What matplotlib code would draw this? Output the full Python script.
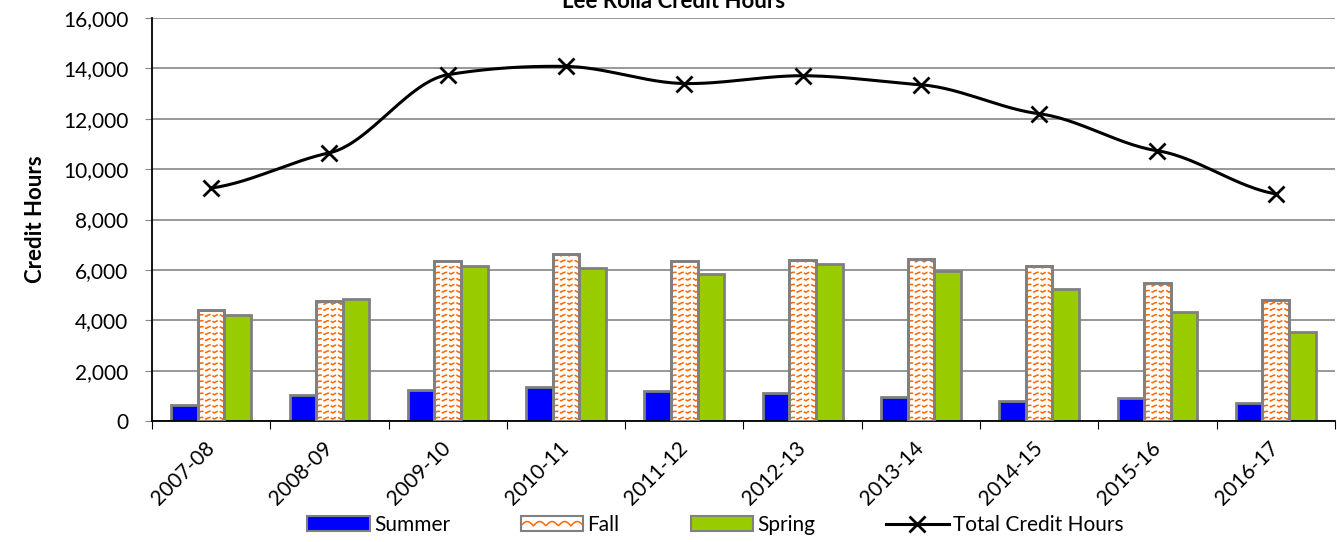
import numpy as np
import matplotlib.pyplot as plt
from matplotlib.lines import Line2D
from matplotlib.patches import Rectangle
from matplotlib.legend_handler import HandlerBase

plt.rcParams['font.family'] = ['Lato', 'DejaVu Sans']

years = ['2007-08', '2008-09', '2009-10', '2010-11', '2011-12',
         '2012-13', '2013-14', '2014-15', '2015-16', '2016-17']
summer = [650, 1050, 1250, 1350, 1200, 1100, 950, 800, 900, 700]
fall = [4400, 4750, 6350, 6650, 6350, 6380, 6450, 6150, 5500, 4800]
spring = [4200, 4850, 6150, 6080, 5850, 6230, 5950, 5250, 4330, 3520]
total = [9250, 10650, 13750, 14080, 13400, 13710, 13350, 12200, 10730, 9020]

ORANGE = '#FF6600'
EDGE = '#808080'
FS = 15


def smooth(xs, ys, n=30, k=0.45):
    # cubic Hermite with damped tangents, close to Excel's smoothed line
    xs = np.asarray(xs, float)
    ys = np.asarray(ys, float)
    m = np.gradient(ys, xs) * k
    ox, oy = [], []
    for i in range(len(xs) - 1):
        t = np.linspace(0, 1, n)
        hgap = xs[i + 1] - xs[i]
        h00 = 2 * t ** 3 - 3 * t ** 2 + 1
        h10 = t ** 3 - 2 * t ** 2 + t
        h01 = -2 * t ** 3 + 3 * t ** 2
        h11 = t ** 3 - t ** 2
        ox.extend(xs[i] + t * hgap)
        oy.extend(h00 * ys[i] + h10 * hgap * m[i] + h01 * ys[i + 1] + h11 * hgap * m[i + 1])
    return ox, oy


def wave_fill(ax, rect):
    x0, y0 = rect.get_x(), rect.get_y()
    w, h = rect.get_width(), rect.get_height()
    xs = np.linspace(x0, x0 + w, 60)
    period = 0.07
    for yy in np.arange(y0 + 110, y0 + h + 200, 240):
        ln, = ax.plot(xs, yy + 70 * np.abs(np.sin(np.pi * (xs - x0) / period)) - 35,
                      color=ORANGE, lw=1.1, zorder=3, dashes=(4, 1.2))
        ln.set_clip_path(rect)


class HandlerWave(HandlerBase):
    def create_artists(self, legend, orig_handle, xdescent, ydescent,
                       width, height, fontsize, trans):
        r = Rectangle((-xdescent, -ydescent), width, height, facecolor='white',
                      edgecolor=EDGE, lw=1.5, transform=trans)
        xs = np.linspace(-xdescent + 1, -xdescent + width - 1, 60)
        ys = -ydescent + height * (0.5 + 0.3 * np.abs(np.sin(np.pi * xs / (width / 5))) - 0.15)
        ln = Line2D(xs, ys, color=ORANGE, lw=1.1, transform=trans)
        return [r, ln]


fig = plt.figure(figsize=(13.37, 5.42), dpi=100)
ax = fig.add_axes([0.1137, 0.2232, 0.8847, 0.7435])

x = np.arange(len(years))
w = 0.225
b1 = ax.bar(x - w, summer, w, color='#0000FF', edgecolor=EDGE, lw=2, zorder=2)
b2 = ax.bar(x, fall, w, color='white', edgecolor=EDGE, lw=2, zorder=2)
b3 = ax.bar(x + w, spring, w, color='#99CC00', edgecolor=EDGE, lw=2, zorder=2)
for r in b2:
    wave_fill(ax, r)
for r in b2:
    ax.add_patch(Rectangle((r.get_x(), r.get_y()), r.get_width(), r.get_height(),
                           fill=False, edgecolor=EDGE, lw=2, zorder=4))

sx, sy = smooth(x, total)
ax.plot(sx, sy, color='black', lw=2.2, zorder=5)
ax.plot(x, total, ls='none', marker='x', ms=11, mew=2, color='black', zorder=6)

ax.set_xlim(-0.5, len(years) - 0.5)
ax.set_ylim(0, 16000)
ax.set_yticks(np.arange(0, 16001, 2000))
ax.set_yticklabels([f'{v:,}' for v in range(0, 16001, 2000)], fontsize=FS)
ax.yaxis.grid(True, color='#868686', lw=1.2, zorder=0)
ax.set_axisbelow(True)

ax.set_xticks(np.arange(-0.5, len(years)), minor=False)
ax.set_xticklabels([])
ax.set_xticks(x, minor=True)
ax.set_xticklabels(years, minor=True, rotation=45, ha='right', va='center',
                   rotation_mode='anchor', fontsize=FS)
ax.tick_params(axis='x', which='major', length=6, direction='out', color='black')
ax.tick_params(axis='x', which='minor', length=0, pad=17)
ax.tick_params(axis='y', length=5, color='#868686', pad=12)

for s in ['top', 'right']:
    ax.spines[s].set_visible(False)
ax.spines['left'].set_color('black')
ax.spines['bottom'].set_color('black')
ax.spines['left'].set_linewidth(1.3)
ax.spines['bottom'].set_linewidth(1.3)

ax.set_ylabel('Credit Hours', fontsize=16, fontweight='bold', labelpad=12)

fig.text(0.504, 1 - 8 / 542, 'Lee Rolla Credit Hours', ha='center', va='baseline',
         fontsize=16, fontweight='bold')

h1 = Rectangle((0, 0), 1, 1, facecolor='#0000FF', edgecolor=EDGE, lw=1.5)
h2 = Rectangle((0, 0), 1, 1, facecolor='white', edgecolor=EDGE, lw=1.5)
h3 = Rectangle((0, 0), 1, 1, facecolor='#99CC00', edgecolor=EDGE, lw=1.5)
h4 = Line2D([], [], color='black', lw=2.2, marker='x', ms=11, mew=2)
fig.legend([h1, h2, h3, h4], ['Summer', 'Fall', 'Spring', 'Total Credit Hours'],
           handler_map={h2: HandlerWave()}, loc='center',
           bbox_to_anchor=(0.535, 1 - 525 / 542), ncol=4, frameon=False,
           fontsize=FS, handlelength=3.0, handleheight=0.7, handletextpad=0.2,
           columnspacing=3.4, borderpad=0)

fig.savefig('out.png', dpi=100)
